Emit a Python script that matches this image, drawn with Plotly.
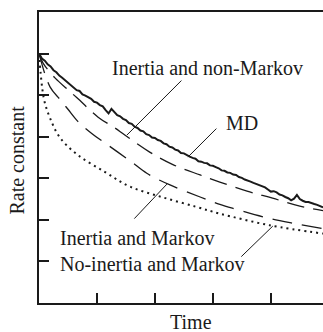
import plotly.graph_objects as go

# MD (solid, noisy)
md_x = [0.0, 0.05, 0.1, 0.15, 0.2, 0.25, 0.3, 0.35, 0.4, 0.45, 0.5, 0.55, 0.6, 0.65, 0.7, 0.75,
        0.8, 0.85, 0.9, 0.95, 1.0, 1.05, 1.1, 1.15, 1.2, 1.25, 1.3, 1.35, 1.4, 1.45, 1.5, 1.55,
        1.6, 1.65, 1.7, 1.75, 1.8, 1.85, 1.9, 1.95, 2.0, 2.05, 2.1, 2.15, 2.2, 2.25, 2.3, 2.35,
        2.4, 2.45, 2.5, 2.55, 2.6, 2.65, 2.7, 2.75, 2.8, 2.85, 2.9, 2.95, 3.0, 3.05, 3.1, 3.15,
        3.2, 3.25, 3.3, 3.35, 3.4, 3.45, 3.5, 3.55, 3.6, 3.65, 3.7, 3.75, 3.8, 3.85, 3.9, 3.95,
        4.0, 4.05, 4.1, 4.15, 4.2, 4.25, 4.3, 4.35, 4.4, 4.45, 4.5, 4.55, 4.6, 4.65, 4.7, 4.75,
        4.8, 4.85, 4.9]
md_y = [6.00, 5.88, 5.83, 5.74, 5.69, 5.60, 5.55, 5.47, 5.42, 5.36, 5.31, 5.24, 5.20, 5.12, 5.10, 5.02,
        4.99, 4.95, 4.91, 4.84, 4.82, 4.76, 4.73, 4.64, 4.56, 4.67, 4.60, 4.52, 4.49, 4.43, 4.40, 4.33,
        4.31, 4.24, 4.21, 4.15, 4.13, 4.06, 4.04, 3.98, 3.97, 3.92, 3.90, 3.84, 3.82, 3.76, 3.74, 3.69,
        3.67, 3.61, 3.60, 3.55, 3.52, 3.49, 3.47, 3.41, 3.40, 3.37, 3.36, 3.31, 3.30, 3.27, 3.24, 3.19,
        3.18, 3.14, 3.13, 3.09, 3.08, 3.03, 3.01, 2.97, 2.95, 2.92, 2.89, 2.86, 2.83, 2.80, 2.78, 2.73,
        2.68, 2.69, 2.66, 2.61, 2.59, 2.55, 2.52, 2.47, 2.51, 2.60, 2.50, 2.46, 2.43, 2.43, 2.40, 2.38,
        2.36, 2.33, 2.30]

# Inertia and non-Markov (long dash)
inm_x = [0.0, 0.07, 0.28, 0.5, 0.66, 1.02, 1.31, 1.48, 1.91, 2.31, 2.78, 3.12, 3.59, 4.03, 4.5, 4.9]
inm_y = [6.0, 5.77, 5.41, 5.13, 4.93, 4.47, 4.21, 4.04, 3.63, 3.33, 3.08, 2.91, 2.69, 2.52, 2.33, 2.22]

# Inertia and Markov (long dash)
im_x = [0.0, 0.19, 0.36, 0.5, 0.67, 0.91, 1.36, 1.6, 1.86, 2.26, 2.78, 3.12, 3.41, 3.93, 4.38, 4.9]
im_y = [6.0, 5.20, 4.90, 4.66, 4.37, 4.08, 3.63, 3.39, 3.12, 2.84, 2.55, 2.37, 2.25, 2.05, 1.92, 1.79]

# No-inertia and Markov (dotted)
nim_x = [0.0, 0.03, 0.06, 0.1, 0.19, 0.36, 0.67, 1.14, 1.57, 2.14, 2.72, 3.12, 3.98, 4.9]
nim_y = [6.0, 5.50, 5.12, 4.82, 4.45, 3.98, 3.56, 3.15, 2.80, 2.54, 2.31, 2.15, 1.87, 1.67]

labels = ["Inertia and non-Markov", "MD", "Inertia and Markov", "No-inertia and Markov"]

FONT = "Times New Roman, Liberation Serif, serif"
INK = "#1a1a1a"

fig = go.Figure()
fig.add_trace(go.Scatter(x=md_x, y=md_y, mode="lines", line=dict(color=INK, width=2), name=labels[1]))
fig.add_trace(go.Scatter(x=inm_x, y=inm_y, mode="lines", line=dict(color=INK, width=1.3, dash="18px,9px", shape="spline"), name=labels[0]))
fig.add_trace(go.Scatter(x=im_x, y=im_y, mode="lines", line=dict(color=INK, width=1.3, dash="20px,10px", shape="spline"), name=labels[2]))
fig.add_trace(go.Scatter(x=nim_x, y=nim_y, mode="lines", line=dict(color=INK, width=2, dash="2px,4px", shape="spline"), name=labels[3]))

tf = dict(family=FONT, size=20, color=INK)
ann = [
    dict(x=2.914, y=5.66, text=labels[0], xanchor="center", yanchor="middle"),
    dict(x=3.5, y=4.33, text=labels[1], xanchor="center", yanchor="middle"),
    dict(x=0.33, y=1.56, text=labels[2], xanchor="left", yanchor="middle"),
    dict(x=0.33, y=0.94, text=labels[3], xanchor="left", yanchor="middle"),
]
annotations = []
for a in ann:
    annotations.append(dict(xref="x", yref="y", showarrow=False, font=tf, **a))

# leader lines
leaders = [(1.517, 4.04, 56, -56), (2.569, 3.51, 30, -30), (2.207, 2.86, -34, 36), (4.034, 1.85, -33, 32)]
for (lx, ly, dx, dy) in leaders:
    annotations.append(dict(xref="x", yref="y", x=lx, y=ly, ax=dx, ay=dy, text="",
                            showarrow=True, arrowhead=0, arrowwidth=1, arrowcolor=INK, standoff=0, startstandoff=0))

annotations.append(dict(xref="paper", yref="paper", x=-0.077, y=0.49, text="Rate constant", textangle=-90,
                        showarrow=False, font=tf, xanchor="center", yanchor="middle"))
annotations.append(dict(xref="paper", yref="paper", x=0.535, y=-0.064, text="Time",
                        showarrow=False, font=tf, xanchor="center", yanchor="middle"))

fig.update_layout(
    width=323, height=332, autosize=False,
    margin=dict(l=39, r=0, t=12, b=29),
    paper_bgcolor="white", plot_bgcolor="white",
    showlegend=False,
    annotations=annotations,
    xaxis=dict(range=[0, 4.9], tickvals=[1, 2, 3, 4], showticklabels=False, ticks="inside", ticklen=10,
               tickwidth=1.5, tickcolor=INK, showline=True, linecolor=INK, linewidth=2, mirror=True,
               showgrid=False, zeroline=False),
    yaxis=dict(range=[0, 7], tickvals=[1, 2, 3, 4, 5, 6], showticklabels=False, ticks="inside", ticklen=10,
               tickwidth=1.5, tickcolor=INK, showline=True, linecolor=INK, linewidth=2,
               showgrid=False, zeroline=False),
)

fig.write_html("out.html", config={"displayModeBar": False},
               post_script="document.body.style.margin='0';document.body.style.overflow='hidden';")
